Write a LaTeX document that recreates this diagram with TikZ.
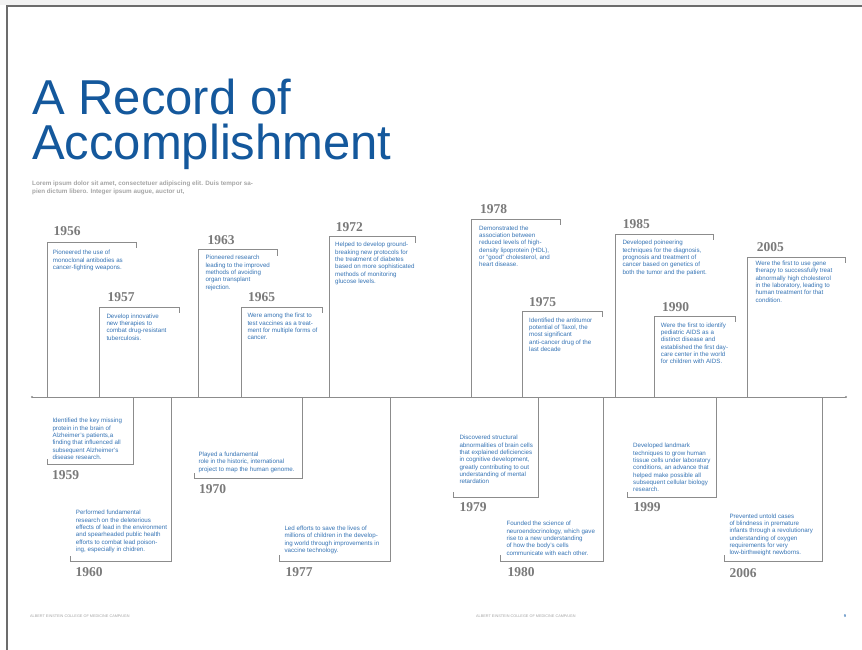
\documentclass[tikz,border=0pt]{standalone}
\usepackage{fontspec}
\setmainfont{Liberation Sans}
\newfontfamily\yearfont{Liberation Serif}
\definecolor{txtblue}{HTML}{3674B5}
\definecolor{ttlblue}{HTML}{14589C}
\definecolor{yrgray}{HTML}{7A7A7A}
\definecolor{lngray}{HTML}{8C8C8C}
\definecolor{lorem}{HTML}{A6A6A6}
\tikzset{
  desc/.style={anchor=north west, inner sep=0pt, align=left, text=txtblue, font=\fontsize{6.2}{7.33}\selectfont},
  yr/.style={anchor=base west, inner sep=0pt, text=yrgray, font=\yearfont\bfseries\fontsize{13.5}{14}\selectfont},
  br/.style={draw=lngray, line width=1pt},
  ttl/.style={anchor=base west, inner sep=0pt, text=ttlblue, font=\fontsize{49}{50}\selectfont},
  foot/.style={anchor=west, inner sep=0pt, text=gray!70, font=\fontsize{3.8}{4}\selectfont},
}
\begin{document}
\begin{tikzpicture}[x=1pt,y=-1pt]
\useasboundingbox (0,0) rectangle (862,650);
\fill[white] (0,0) rectangle (862,650);
\fill[gray!10] (0,0) rectangle (862,5);
\draw[draw=gray!85!black, line width=2pt] (6.7,650) -- (6.7,5.7) -- (862,5.7);

% title
\node[ttl] (t1) at (32,114.5) {A Record of};
\node[ttl] (t2) at (32,159.5) {Accomplishment};
\node[anchor=north west, inner sep=0pt, align=left, text=lorem, font=\bfseries\fontsize{6.3}{8}\selectfont] (lor) at (32,181) {Lorem ipsum dolor sit amet, consectetuer adipiscing elit. Duis tempor sa-\\pien dictum libero. Integer ipsum augue, auctor ut,};

% axis
\coordinate (axL) at (32,397);
\coordinate (axR) at (846,397);
\draw[br] (axL) -- (axR);
\fill[lngray] (axL) circle (1.1) (axR) circle (1.1);

% upper events
\draw[br] (47.3,397) |- (136.3,242.3) -- ++(0,6);
\node[yr] (y1956) at (53.3,235.3) {1956};
\node[desc] (d1956) at (52.7,250.2) {Pioneered the use of\\monoclonal antibodies as\\cancer-fighting weapons.};

\draw[br] (99.3,397) |- (179.7,307.3) -- ++(0,5.5);
\node[yr] (y1957) at (107.3,301.3) {1957};
\node[desc] (d1957) at (106.3,313.5) {Develop innovative\\new therapies to\\combat drug-resistant\\tuberculosis.};

\draw[br] (198.7,397) |- (277.3,249.7) -- ++(0,6);
\node[yr] (y1963) at (207.3,244.3) {1963};
\node[desc] (d1963) at (205.3,255.2) {Pioneered research\\leading to the improved\\methods of avoiding\\organ transplant\\rejection.};

\draw[br] (241.3,397) |- (322,307.3) -- ++(0,5.5);
\node[yr] (y1965) at (248,301.3) {1965};
\node[desc] (d1965) at (247.3,313.2) {Were among the first to\\test vaccines as a treat-\\ment for multiple forms of\\cancer.};

\draw[br] (329,397) |- (415.3,236.7) -- ++(0,6.5);
\node[yr] (y1972) at (335.7,231.3) {1972};
\node[desc] (d1972) at (335,242.2) {Helped to develop ground-\\breaking new protocols for\\the treatment of diabetes\\based on more sophisticated\\methods of monitoring\\glucose levels.};

\draw[br] (471.7,397) |- (560,219.7) -- ++(0,5.5);
\node[yr] (y1978) at (480,213.9) {1978};
\node[desc] (d1978) at (479,225.5) {Demonstrated the\\association between\\reduced levels of high-\\density lipoprotein (HDL),\\or “good” cholesterol, and\\heart disease.};

\draw[br] (522.3,397) |- (602.7,311.7) -- ++(0,5.5);
\node[yr] (y1975) at (529,306.6) {1975};
\node[desc] (d1975) at (529,317.5) {Identified the antitumor\\potential of Taxol, the\\most significant\\anti-cancer drug of the\\last decade};

\draw[br] (615.3,397) |- (713.3,234.3) -- ++(0,5.5);
\node[yr] (y1985) at (622.7,228.3) {1985};
\node[desc] (d1985) at (622.3,240.2) {Developed poineering\\techniques for the diagnosis,\\prognosis and treatment of\\cancer based on genetics of\\both the tumor and the patient.};

\draw[br] (654.7,397) |- (735.3,316.7) -- ++(0,5.5);
\node[yr] (y1990) at (662,311.3) {1990};
\node[desc] (d1990) at (660.7,322.5) {Were the first to identify\\pediatric AIDS as a\\distinct disease and\\established the first day-\\care center in the world\\for children with AIDS.};

\draw[br] (747.3,397) |- (845.3,257) -- ++(0,5.5);
\node[yr] (y2005) at (756.7,251.3) {2005};
\node[desc] (d2005) at (755.3,260.8) {Were the first to use gene\\therapy to successfully treat\\abnormally high cholesterol\\in the laboratory, leading to\\human treatment for that\\condition.};

% lower events
\draw[br] (133,397) |- (47.3,464) -- ++(0,-5);
\node[yr] (y1959) at (52,479.9) {1959};
\node[desc] (d1959) at (52.3,418.2) {Identified the key missing\\protein in the brain of\\Alzheimer’s patients,a\\finding that influenced all\\subsequent Alzheimer’s\\disease research.};

\draw[br] (171.3,397) |- (70.3,561.3) -- ++(0,-5.5);
\node[yr] (y1960) at (75.3,576.3) {1960};
\node[desc] (d1960) at (75.7,510.2) {Performed fundamental\\research on the deleterious\\effects of lead in the environment\\and spearheaded public health\\efforts to combat lead poison-\\ing, especially in chidren.};

\draw[br] (302.7,397) |- (194.3,478.3) -- ++(0,-5.3);
\node[yr] (y1970) at (199,493.3) {1970};
\node[desc] (d1970) at (198.3,451.8) {Played a fundamental\\role in the historic, international\\project to map the human genome.};

\draw[br] (390,397) |- (279,561.3) -- ++(0,-6);
\node[yr] (y1977) at (285.3,576.3) {1977};
\node[desc] (d1977) at (284.3,525.8) {Led efforts to save the lives of\\millions of children in the develop-\\ing world through improvements in\\vaccine technology.};

\draw[br] (538,397) |- (453,497) -- ++(0,-5.3);
\node[yr] (y1979) at (459.3,511.9) {1979};
\node[desc] (d1979) at (459.3,435.2) {Discovered structural\\abnormalities of brain cells\\that explained deficiencies\\in cognitive development,\\greatly contributing to out\\understanding of mental\\retardation};

\draw[br] (603.3,397) |- (500.3,561.3) -- ++(0,-6);
\node[yr] (y1980) at (507.3,576.3) {1980};
\node[desc] (d1980) at (506.3,521.2) {Founded the science of\\neuroendocrinology, which gave\\rise to a new understanding\\of how the body’s cells\\communicate with each other.};

\draw[br] (716.3,397) |- (627.3,497) -- ++(0,-5.3);
\node[yr] (y1999) at (633.3,511.9) {1999};
\node[desc] (d1999) at (633,443.2) {Developed landmark\\techniques to grow human\\tissue cells under laboratory\\conditions, an advance that\\helped make possible all\\subsequent cellular biology\\research.};

\draw[br] (822.3,397) |- (724.3,561.3) -- ++(0,-6);
\node[yr] (y2006) at (729.3,577.3) {2006};
\node[desc] (d2006) at (729.3,513.5) {Prevented untold cases\\of blindness in premature\\infants through a revolutionary\\understanding of oxygen\\requirements for very\\low-birthweight newborns.};

% footer
\node[foot] (f1) at (30,616) {ALBERT EINSTEIN COLLEGE OF MEDICINE CAMPAIGN};
\node[foot] (f2) at (476,616) {ALBERT EINSTEIN COLLEGE OF MEDICINE CAMPAIGN};
\node[anchor=center, inner sep=0pt, text=txtblue, font=\bfseries\fontsize{4}{4}\selectfont] (pg) at (845,616) {9};
\end{tikzpicture}
\end{document}
